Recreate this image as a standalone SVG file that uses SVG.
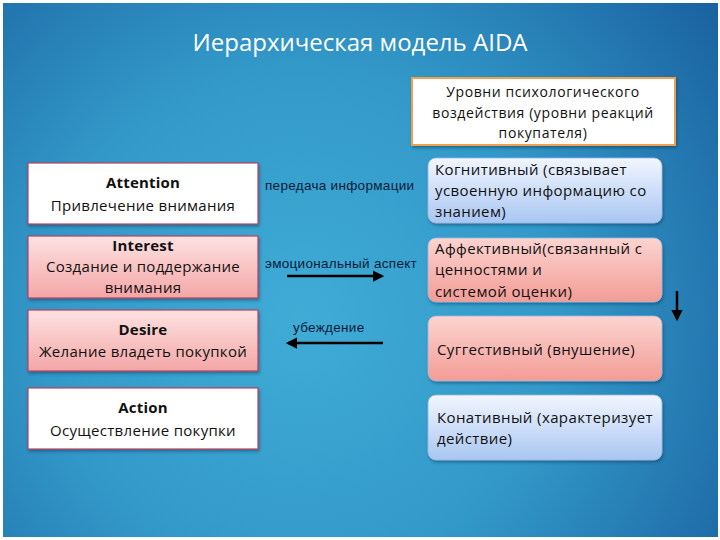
<svg xmlns="http://www.w3.org/2000/svg" width="720" height="540" viewBox="0 0 720 540">
<defs>
<radialGradient id="bg" cx="300" cy="320" r="520" gradientUnits="userSpaceOnUse">
<stop offset="0" stop-color="#40acd6"/>
<stop offset="0.5" stop-color="#3298c8"/>
<stop offset="1" stop-color="#1a62a0"/>
</radialGradient>
<linearGradient id="pinkL" x1="0" y1="0" x2="0" y2="1">
<stop offset="0" stop-color="#fde2e2"/>
<stop offset="1" stop-color="#f4a6a6"/>
</linearGradient>
<linearGradient id="pinkR" x1="0" y1="0" x2="0" y2="1">
<stop offset="0" stop-color="#fcd4d0"/>
<stop offset="1" stop-color="#f39c96"/>
</linearGradient>
<linearGradient id="blueR" x1="0" y1="0" x2="0" y2="1">
<stop offset="0" stop-color="#f2f6ff"/>
<stop offset="1" stop-color="#a9c6f2"/>
</linearGradient>
<filter id="sh" x="-10%" y="-10%" width="120%" height="130%">
<feDropShadow dx="1" dy="2" stdDeviation="1.5" flood-color="#0a3050" flood-opacity="0.45"/>
</filter>
<marker id="ah" viewBox="0 0 10 10" refX="8" refY="5" markerWidth="4.5" markerHeight="4.5" orient="auto">
<path d="M0,0 L10,5 L0,10 Z" fill="#000"/>
</marker>
</defs>
<style>
.t{font-family:"Open Sans","Liberation Sans",sans-serif;fill:#111;}
.c{text-anchor:middle;font-size:15px;letter-spacing:0.3px;}
.h{text-anchor:middle;font-size:14px;letter-spacing:0.6px;}
.b{font-weight:bold;letter-spacing:0.2px;}
.l{font-size:15px;letter-spacing:0.4px;}
.m{font-family:"Liberation Sans",Arial,sans-serif;font-size:13.5px;letter-spacing:0.3px;fill:#0c1a3a;}
.lbox{stroke:#b84060;stroke-width:1.2;filter:url(#sh);}
.rbox{stroke:#9ab8e0;stroke-width:0.8;filter:url(#sh);}
.con{stroke:#000;stroke-width:2.5;fill:none;marker-end:url(#ah);}
</style>
<rect x="0" y="0" width="720" height="540" fill="#ffffff"/>
<rect x="3" y="3" width="715" height="534" fill="url(#bg)"/>
<text x="360" y="51" text-anchor="middle" font-family="Open Sans, Liberation Sans, sans-serif" font-size="24" fill="#ffffff">Иерархическая модель AIDA</text>

<g id="header">
<rect x="412" y="78" width="263" height="67" fill="#ffffff" stroke="#f0a050" stroke-width="2" filter="url(#sh)"/>
<text class="t h" x="543" y="97">Уровни психологического</text>
<text class="t h" x="543" y="118">воздействия (уровни реакций</text>
<text class="t h" x="543" y="138">покупателя)</text>
</g>

<g id="attention">
<rect class="lbox" x="28" y="163" width="230" height="61" fill="#ffffff"/>
<text class="t c b" x="143" y="188">Attention</text>
<text class="t c" x="143" y="211">Привлечение внимания</text>
</g>
<g id="interest">
<rect class="lbox" x="28" y="236" width="230" height="62" fill="url(#pinkL)"/>
<text class="t c b" x="143" y="251">Interest</text>
<text class="t c" x="143" y="272">Создание и поддержание</text>
<text class="t c" x="143" y="293">внимания</text>
</g>
<g id="desire">
<rect class="lbox" x="28" y="310" width="230" height="61" fill="url(#pinkL)"/>
<text class="t c b" x="143" y="335">Desire</text>
<text class="t c" x="143" y="357">Желание владеть покупкой</text>
</g>
<g id="action">
<rect class="lbox" x="28" y="388" width="230" height="61" fill="#ffffff"/>
<text class="t c b" x="143" y="413">Action</text>
<text class="t c" x="143" y="436">Осуществление покупки</text>
</g>

<g id="cognitive">
<rect class="rbox" x="428" y="158" width="234" height="65" rx="8" fill="url(#blueR)"/>
<text class="t l" x="435" y="175">Когнитивный (связывает</text>
<text class="t l" x="435" y="196">усвоенную информацию со</text>
<text class="t l" x="435" y="217">знанием)</text>
</g>
<g id="affective">
<rect class="rbox" x="428" y="238" width="234" height="64" rx="8" fill="url(#pinkR)" stroke="#e08080"/>
<text class="t l" x="435" y="254">Аффективный(связанный с</text>
<text class="t l" x="435" y="275">ценностями и</text>
<text class="t l" x="435" y="297">системой оценки)</text>
</g>
<g id="suggestive">
<rect class="rbox" x="428" y="316" width="234" height="65" rx="8" fill="url(#pinkR)" stroke="#e08080"/>
<text class="t l" x="437" y="355">Суггестивный (внушение)</text>
</g>
<g id="conative">
<rect class="rbox" x="428" y="395" width="234" height="65" rx="8" fill="url(#blueR)"/>
<text class="t l" x="437" y="423">Конативный (характеризует</text>
<text class="t l" x="437" y="444">действие)</text>
</g>

<g id="labels">
<text class="m" x="265" y="190">передача информации</text>
<text class="m" x="265" y="268">эмоциональный аспект</text>
<text class="m" x="293" y="332">убеждение</text>
</g>

<g id="connectors">
<line class="con" x1="287" y1="276" x2="382" y2="276"/>
<line class="con" x1="383" y1="343" x2="288" y2="343"/>
<line class="con" x1="677" y1="291" x2="677" y2="319"/>
</g>
</svg>
